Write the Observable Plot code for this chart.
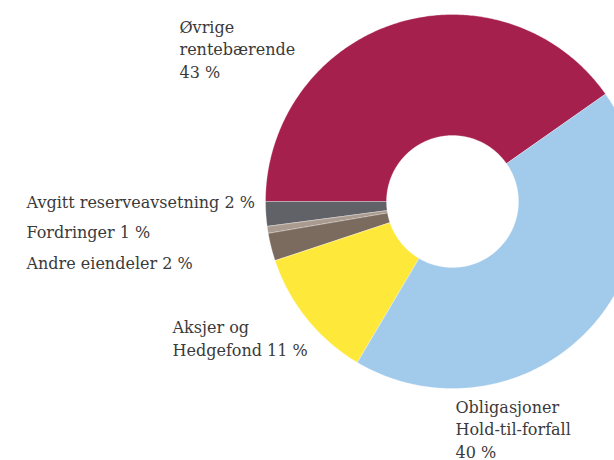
<!DOCTYPE html>
<html><head><meta charset="utf-8">
<script src="https://cdn.jsdelivr.net/npm/d3@7"></script>
<script src="https://cdn.jsdelivr.net/npm/@observablehq/plot@0.6"></script>
<style>body{margin:0;background:#fff;overflow:hidden}</style>
</head><body><div id="chart"></div>
<script>
// Data (clockwise from 9 o'clock), slice shares
const categories = ["Øvrige rentebærende", "Obligasjoner Hold-til-forfall", "Aksjer og Hedgefond", "Andre eiendeler", "Fordringer", "Avgitt reserveavsetning"];
const shares = [40.3, 43.3, 11.4, 2.4, 0.6, 2.1];
const labelTexts = ["Øvrige\nrentebærende\n43 %", "Obligasjoner\nHold-til-forfall\n40 %", "Aksjer og\nHedgefond 11 %", "Andre eiendeler 2 %", "Fordringer 1 %", "Avgitt reserveavsetning 2 %"];
const colors = ["#a6204d", "#a1caeb", "#fee839", "#7b6a5e", "#a99b8f", "#616267"];

// Layout
const W = 614, H = 460;
const cx = 452, cy = 201, rOuter = 187, rInner = 66;
const labelAnchor = { // left x, baseline of last line
  "Øvrige rentebærende": [179, 77],
  "Obligasjoner Hold-til-forfall": [455, 457],
  "Aksjer og Hedgefond": [172, 355],
  "Andre eiendeler": [26, 268],
  "Fordringer": [26, 237],
  "Avgitt reserveavsetning": [26, 207]
};

const rows = categories.map((c, i) => ({category: c, share: shares[i], label: labelTexts[i]}));
const arcs = d3.pie().value(d => d.share).sort(null)
  .startAngle(-Math.PI / 2).endAngle(3 * Math.PI / 2)(rows);

function pt(r, a) { return [cx + r * Math.sin(a), cy - r * Math.cos(a)]; }
const features = arcs.map(a => {
  const n = Math.max(4, Math.ceil((a.endAngle - a.startAngle) / 0.01));
  const ring = [];
  for (let k = 0; k <= n; ++k) ring.push(pt(rOuter, a.startAngle + (a.endAngle - a.startAngle) * k / n));
  for (let k = n; k >= 0; --k) ring.push(pt(rInner, a.startAngle + (a.endAngle - a.startAngle) * k / n));
  ring.push(ring[0]);
  return {type: "Feature", properties: a.data, geometry: {type: "Polygon", coordinates: [ring]}};
});
const frame = {type: "Polygon", coordinates: [[[0, 0], [W, 0], [W, H], [0, H], [0, 0]]]};

const chart = Plot.plot({
  width: W, height: H, margin: 0,
  projection: {type: "identity", domain: frame, inset: 0},
  color: {domain: categories, range: colors},
  style: {fontFamily: "'DejaVu Serif', serif", fontSize: "16px", background: "#fff", color: "#333"},
  marks: [
    Plot.geo(features, {fill: d => d.properties.category, stroke: "#fff", strokeWidth: 0.3}),
    Plot.text(rows, {
      x: d => labelAnchor[d.category][0], y: d => labelAnchor[d.category][1],
      text: "label", textAnchor: "start", lineAnchor: "bottom", lineHeight: 1.4,
      fill: "#3a3a3a", fontSize: 16
    })
  ]
});
document.getElementById("chart").append(chart);
</script>
</body></html>
